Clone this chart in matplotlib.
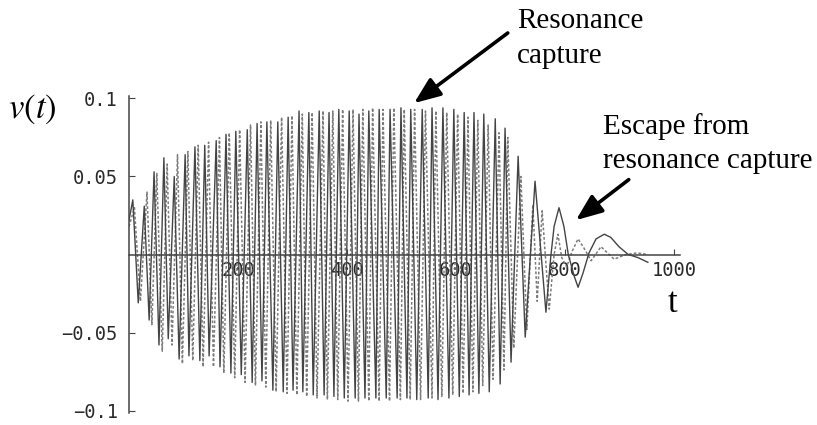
import matplotlib
matplotlib.use("Agg")
import matplotlib.pyplot as plt

# solid curve: vertices (extrema and a few shape points)
t_solid = [0, 7, 17, 28, 37, 46, 55, 64, 72, 83, 92, 103, 110, 121, 130, 139, 147,
           160, 167, 178, 187, 196, 206, 217, 226, 235, 244, 253, 264, 273, 283,
           292, 301, 312, 319, 330, 338, 349, 358, 367, 376, 385, 395, 404, 415,
           422, 433, 440, 453, 459, 472, 479, 492, 499, 510, 517, 528, 538, 549,
           556, 567, 576, 587, 596, 606, 615, 624, 633, 642, 651, 661, 672, 681,
           690, 701, 714, 727, 745, 765, 774, 780, 789, 798, 806, 817, 824, 833,
           844, 857, 872, 884, 899, 916, 934, 952]
v_solid = [0.022, 0.035, -0.031, 0.031, -0.042, 0.053, -0.058, 0.062, -0.054, 0.050,
           -0.067, 0.064, -0.065, 0.069, -0.068, 0.070, -0.065, 0.073, -0.072, 0.077,
           -0.076, 0.079, -0.077, 0.080, -0.082, 0.084, -0.081, 0.085, -0.087, 0.085,
           -0.088, 0.088, -0.087, 0.092, -0.088, 0.091, -0.090, 0.092, -0.090, 0.091,
           -0.091, 0.093, -0.092, 0.092, -0.092, 0.090, -0.092, 0.092, -0.092, 0.093,
           -0.092, 0.093, -0.092, 0.094, -0.092, 0.093, -0.093, 0.093, -0.092, 0.094,
           -0.093, 0.094, -0.092, 0.093, -0.091, 0.091, -0.090, 0.091, -0.089, 0.090,
           -0.088, 0.087, -0.083, 0.081, -0.069, 0.063, -0.053, 0.047, -0.037, -0.001,
           0.018, 0.030, 0.018, 0.000, -0.014, -0.021, -0.012, 0.001, 0.010, 0.013,
           0.011, 0.005, 0.000, -0.002, -0.005]

# dashed curve
t_dashed = [0, 10, 21, 33, 42, 51, 61, 70, 79, 89, 98, 108, 117, 127, 136, 146, 155,
            166, 174, 184, 194, 203, 213, 223, 232, 242, 251, 260, 270, 280, 290,
            299, 308, 318, 326, 336, 345, 356, 364, 374, 383, 392, 402, 411, 421,
            429, 440, 447, 459, 466, 478, 486, 498, 505, 516, 524, 535, 544, 556,
            563, 574, 583, 594, 603, 613, 622, 631, 640, 649, 659, 668, 679, 688,
            695, 706, 719, 730, 741, 749, 758, 771, 780, 787, 794, 803, 813, 824,
            835, 848, 866, 890, 912, 932, 952]
v_dashed = [0.018, 0.030, -0.030, 0.040, -0.045, 0.052, -0.062, 0.058, -0.058, 0.064,
            -0.070, 0.066, -0.068, 0.070, -0.072, 0.072, -0.072, 0.075, -0.076, 0.078,
            -0.079, 0.080, -0.082, 0.083, -0.084, 0.085, -0.085, 0.086, -0.088, 0.088,
            -0.089, 0.089, -0.090, 0.090, -0.091, 0.091, -0.092, 0.092, -0.093, 0.092,
            -0.093, 0.093, -0.094, 0.093, -0.094, 0.093, -0.094, 0.094, -0.094, 0.093,
            -0.094, 0.094, -0.093, 0.093, -0.093, 0.093, -0.093, 0.092, -0.092, 0.092,
            -0.091, 0.091, -0.090, 0.090, -0.089, 0.088, -0.088, 0.086, -0.084, 0.083,
            -0.080, 0.078, -0.074, 0.075, -0.060, 0.050, -0.048, 0.032, -0.030, 0.028,
            -0.035, 0.000, 0.013, -0.002, -0.008, 0.002, 0.010, 0.004, -0.004, 0.005,
            -0.003, 0.000, 0.001, 0.000]

x_ticks = [200, 400, 600, 800, 1000]
x_tick_labels = ["200", "400", "600", "800", "1000"]
y_ticks = [0.1, 0.05, -0.05, -0.1]
y_tick_labels = ["0.1", "0.05", "\u22120.05", "\u22120.1"]

plt.rcParams["mathtext.fontset"] = "stix"
SERIF = "Liberation Serif"
MONO = "DejaVu Sans Mono"

fig = plt.figure(figsize=(8.17, 4.25), dpi=100)
ax = fig.add_axes([129 / 817, 12 / 425, 551 / 817, 317 / 425])
ax.set_xlim(0, 1011)
ax.set_ylim(-0.1016, 0.1016)

ax.plot(t_dashed, v_dashed, color="#7c7c7c", lw=1.1, ls=(0, (1.8, 1.3)), zorder=2)
ax.plot(t_solid, v_solid, color="#444444", lw=1.0, zorder=3)

for side in ("top", "right"):
    ax.spines[side].set_visible(False)
ax.spines["bottom"].set_position(("data", 0))
ax.spines["left"].set_position(("data", 0))
for side in ("bottom", "left"):
    ax.spines[side].set_color("#444444")
    ax.spines[side].set_linewidth(1.1)

ax.set_xticks(x_ticks)
ax.set_xticklabels(x_tick_labels, fontfamily=MONO, fontsize=13.5)
ax.set_yticks(y_ticks)
ax.set_yticklabels(y_tick_labels, fontfamily=MONO, fontsize=13.5)
ax.tick_params(axis="x", direction="in", length=4, width=0.8, pad=5, colors="#444444")
ax.tick_params(axis="y", direction="in", length=4, width=0.8, pad=8, colors="#444444")
for lab in ax.get_xticklabels() + ax.get_yticklabels():
    lab.set_color("#2a2a2a")
    lab.set_zorder(5)

fig.text(8 / 817, 1 - 109 / 425, r"$v(t)$", fontsize=25, ha="left", va="center")
fig.text(673 / 817, 1 - 303 / 425, "t", fontfamily=SERIF, fontsize=25,
         ha="center", va="center")

arrow = dict(arrowstyle="-|>,head_length=0.8,head_width=0.32", lw=2.6,
             color="black", shrinkA=0, shrinkB=0, mutation_scale=20)
ax.annotate("", xy=(523, 0.097), xytext=(695, 0.142), arrowprops=arrow,
            annotation_clip=False)
ax.annotate("", xy=(820, 0.022), xytext=(917, 0.048), arrowprops=arrow,
            annotation_clip=False)

fig.text(517 / 817, 1 - 8 / 425, "Resonance\ncapture", fontfamily=SERIF,
         fontsize=21, ha="left", va="top", linespacing=1.45)
fig.text(603 / 817, 1 - 113 / 425, "Escape from\nresonance capture",
         fontfamily=SERIF, fontsize=21, ha="left", va="top", linespacing=1.38)

fig.savefig("out.png", dpi=100)
